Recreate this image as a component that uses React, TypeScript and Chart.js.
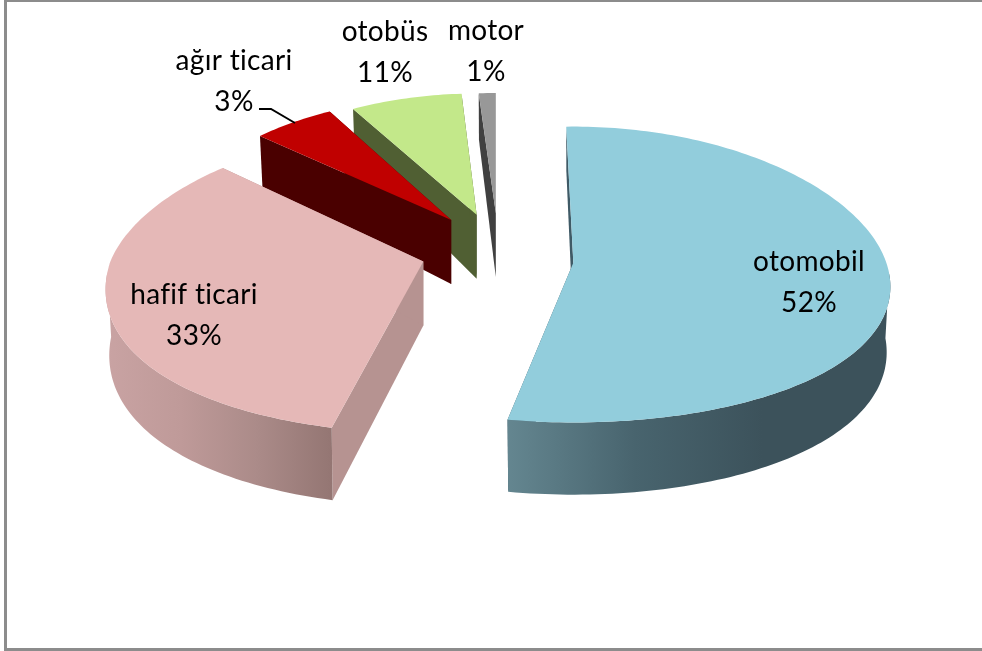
import React, { useEffect, useRef } from "react";
import { Chart, registerables } from "chart.js";

Chart.register(...registerables);

// Printed names and printed percentages
const categories = ["otomobil", "hafif ticari", "ağır ticari", "otobüs", "motor"];
const percentLabels = ["52%", "33%", "3%", "11%", "1%"];
// Share of the circle that each wedge visibly takes in the picture
const sliceShares = [52.78, 34.31, 4.86, 7.06, 0.99];
const explode = [76, 76, 75, 72, 72];

const topColors = ["#92CDDC", "#E5B8B7", "#C00000", "#C3E88A", "#989898"];
const faceColors = ["#3F5A66", "#B69391", "#4A0000", "#505F33", "#404040"];
const wallStops = [
  ["#648690", "#48646E", "#3C525B", "#3C525B"],
  ["#C9A3A3", "#BF9A99", "#AB8B89", "#947673"],
  ["#4A0000", "#4A0000", "#4A0000", "#4A0000"],
  ["#505F33", "#505F33", "#505F33", "#505F33"],
  ["#404040", "#404040", "#404040", "#404040"],
];

// 3D look: per-wedge fine tuning and the camera
const tipNudge = [[1, 9.6], [-0.6, 0.4], [0, -2.7], [0, -3.5], [1.5, -4]];
const radiusScale = [1, 1, 0.9, 0.885, 0.875];
const backShrink = [0, 0.033, 0, 0, 0];
const frontGrow = [0.02, 0.09, 0, 0, 0];
const startShiftDeg = [-1.5, 3, -1.5, -1, -0.5];
const DIST_X = 2000;
const DIST_Y = 4500;
const TILT = 0.465;
const DEPTH = 64;

const labelSpots = [[809, 262], [194, 295], [234, 61], [385, 32], [486, 31]];
const LINE_GAP = 41;

const pie3d = {
  id: "pie3d",
  beforeDatasetsDraw(chart: any) {
    const ctx: any = chart.ctx;
    const arcs = chart.getDatasetMeta(0).data;
    const parts = arcs.map((el: any, i: number) => {
      const mid = (el.startAngle + el.endAngle) / 2;
      const e = el.options.offset;
      const ex = Math.cos(mid) * e;
      const ey = Math.sin(mid) * e;
      const es = DIST_Y / (DIST_Y - ey);
      const tipX = el.x + ex * es + tipNudge[i][0];
      const tipY = el.y + ey * TILT * es + tipNudge[i][1];
      const at = (a: number) => {
        const sin = Math.sin(a);
        const grow = sin > 0 ? frontGrow[i] * sin * sin : 0;
        const R = el.outerRadius * radiusScale[i] * (1 - backShrink[i] * Math.max(0, -sin) + grow);
        const x = Math.cos(a) * R;
        const y = sin * R;
        return {
          x,
          y,
          sx: tipX + (x * DIST_X) / (DIST_X - y),
          sy: tipY + (y * TILT * DIST_Y) / (DIST_Y - y),
        };
      };
      const drop = (p: any) => {
        const k = p.y < 0 ? 0.001 : 0.0004;
        return { x: p.sx - p.x * 0.012, y: p.sy + DEPTH * (1 + p.y * k) };
      };
      const start = el.startAngle + (startShiftDeg[i] * Math.PI) / 180;
      const n = Math.max(4, Math.ceil((el.endAngle - start) / 0.02));
      const rim: any[] = [];
      for (let k = 0; k <= n; k++) rim.push(at(start + ((el.endAngle - start) * k) / n));
      return { i, tipX, tipY, rim, drop };
    });

    const quad = (pts: number[][], fill: any) => {
      ctx.beginPath();
      pts.forEach((p, k) => (k ? ctx.lineTo(p[0], p[1]) : ctx.moveTo(p[0], p[1])));
      ctx.closePath();
      ctx.fillStyle = fill;
      ctx.fill();
    };

    ctx.save();
    [4, 3, 2, 1, 0].forEach((idx) => {
      const { i, tipX, tipY, rim, drop } = parts[idx];
      const tipDrop = [tipX, tipY + DEPTH];
      [rim[0], rim[rim.length - 1]].forEach((p: any) => {
        const d = drop(p);
        quad([[tipX, tipY], [p.sx, p.sy], [d.x, d.y], tipDrop], faceColors[i]);
      });
      const front = rim.filter((p: any) => p.y > 20);
      if (front.length > 1) {
        const minX = Math.min(...front.map((p: any) => p.sx));
        const maxX = Math.max(...front.map((p: any) => p.sx));
        const g = ctx.createLinearGradient(minX, 0, maxX, 0);
        wallStops[i].forEach((c, k) => g.addColorStop(k / 3, c));
        const pts = front.map((p: any) => [p.sx, p.sy]);
        const low = front.map((p: any) => drop(p)).reverse().map((d: any) => [d.x, d.y]);
        quad([...pts, ...low], g);
      }
      quad([[tipX, tipY], ...rim.map((p: any) => [p.sx, p.sy])], topColors[i]);
    });

    // leader line of the small wedge
    ctx.beginPath();
    ctx.moveTo(259, 109);
    ctx.lineTo(271, 109);
    ctx.lineTo(295, 123);
    ctx.strokeStyle = "#000";
    ctx.lineWidth = 2;
    ctx.stroke();

    ctx.fillStyle = "#000";
    ctx.font = "28px Lato";
    ctx.letterSpacing = "0.3px";
    ctx.textAlign = "center";
    ctx.textBaseline = "middle";
    categories.forEach((name, i) => {
      ctx.fillText(name, labelSpots[i][0], labelSpots[i][1]);
      ctx.fillText(percentLabels[i], labelSpots[i][0], labelSpots[i][1] + LINE_GAP);
    });
    ctx.restore();
    return false;
  },
};

export default function App() {
  const ref = useRef<HTMLCanvasElement>(null);
  useEffect(() => {
    document.body.style.margin = "0";
    const chart = new Chart(ref.current as HTMLCanvasElement, {
      type: "pie",
      data: {
        labels: categories,
        datasets: [{ data: sliceShares, backgroundColor: topColors, borderWidth: 0, offset: explode }],
      },
      options: {
        animation: false,
        responsive: false,
        radius: 313,
        layout: { padding: { left: 11, bottom: 151 } },
        plugins: { legend: { display: false }, tooltip: { enabled: false } },
      } as any,
      plugins: [pie3d as any],
    });
    return () => chart.destroy();
  }, []);
  return (
    <div style={{ position: "absolute", left: 0, top: 0, width: 982, height: 651, overflow: "hidden", background: "#fff" }}>
      <canvas ref={ref} width={982} height={651} style={{ position: "absolute", left: 0, top: 0 }} />
      <div
        style={{
          position: "absolute", left: 4, top: 0, width: 990, height: 646,
          borderLeft: "3px solid #8C8C8C", borderTop: "2px solid #8C8C8C", borderBottom: "3px solid #8C8C8C",
          pointerEvents: "none",
        }}
      />
    </div>
  );
}
